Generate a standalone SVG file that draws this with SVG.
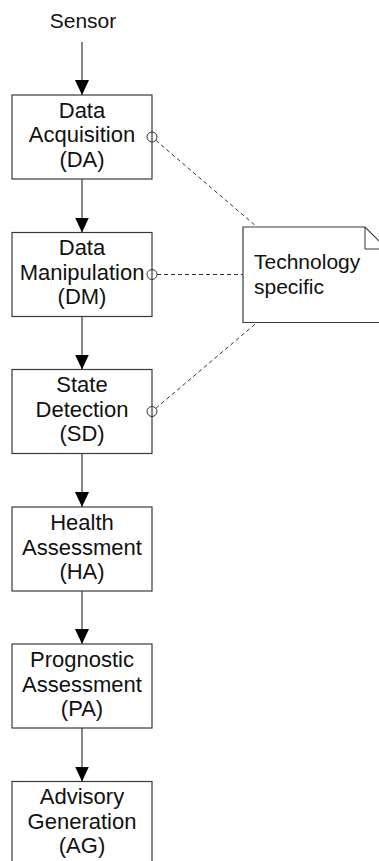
<svg xmlns="http://www.w3.org/2000/svg" width="379" height="861" viewBox="0 0 379 861">
  <style>
    .box { fill: #ffffff; stroke: #3a3a3a; stroke-width: 1.2; }
    .lbl { font-family: "Liberation Sans", Arial, sans-serif; font-size: 22px; fill: #111111; text-anchor: middle; }
    .top-lbl { font-family: "Liberation Sans", Arial, sans-serif; font-size: 21px; fill: #111111; text-anchor: middle; }
    .note-lbl { font-family: "Liberation Sans", Arial, sans-serif; font-size: 21px; fill: #111111; }
    .flow { stroke: #3a3a3a; stroke-width: 1.2; fill: none; }
    .dash { stroke: #333333; stroke-width: 1; fill: none; stroke-dasharray: 4 3; }
    .port { fill: none; stroke: #333333; stroke-width: 1; }
  </style>
  <defs>
    <marker id="arrow" markerUnits="userSpaceOnUse" viewBox="0 0 15 14" markerWidth="15" markerHeight="14" refX="15" refY="7" orient="auto">
      <path d="M0,0 L15,7 L0,14 Z" fill="#000000"/>
    </marker>
  </defs>

  <rect width="379" height="861" fill="#ffffff"/>

  <!-- flow connectors -->
  <g id="connectors">
    <line class="flow" x1="82" y1="42" x2="82" y2="95" marker-end="url(#arrow)"/>
    <line class="flow" x1="82" y1="179" x2="82" y2="232.5" marker-end="url(#arrow)"/>
    <line class="flow" x1="82" y1="316.5" x2="82" y2="369.5" marker-end="url(#arrow)"/>
    <line class="flow" x1="82" y1="453.5" x2="82" y2="507" marker-end="url(#arrow)"/>
    <line class="flow" x1="82" y1="591" x2="82" y2="644" marker-end="url(#arrow)"/>
    <line class="flow" x1="82" y1="728" x2="82" y2="781.5" marker-end="url(#arrow)"/>

    <!-- links to the note -->
    <line class="dash" x1="155.8" y1="140.3" x2="257" y2="227"/>
    <line class="dash" x1="157" y1="274.5" x2="243" y2="274.5"/>
    <line class="dash" x1="155.8" y1="408.3" x2="257" y2="322.5"/>
  </g>

  <g id="sensor">
    <text class="top-lbl" x="83" y="27.5">Sensor</text>
  </g>

  <g id="da">
    <rect class="box" x="12" y="95" width="140" height="84"/>
    <text class="lbl" x="82" y="117.5">Data</text>
    <text class="lbl" x="82" y="142">Acquisition</text>
    <text class="lbl" x="82" y="166.5">(DA)</text>
    <circle class="port" cx="152" cy="137" r="5"/>
  </g>

  <g id="dm">
    <rect class="box" x="12" y="232.5" width="140" height="84"/>
    <text class="lbl" x="82" y="255">Data</text>
    <text class="lbl" x="82" y="279.5">Manipulation</text>
    <text class="lbl" x="82" y="304">(DM)</text>
    <circle class="port" cx="152" cy="274.5" r="5"/>
  </g>

  <g id="sd">
    <rect class="box" x="12" y="369.5" width="140" height="84"/>
    <text class="lbl" x="82" y="392">State</text>
    <text class="lbl" x="82" y="416.5">Detection</text>
    <text class="lbl" x="82" y="441">(SD)</text>
    <circle class="port" cx="152" cy="411.5" r="5"/>
  </g>

  <g id="ha">
    <rect class="box" x="12" y="507" width="140" height="84"/>
    <text class="lbl" x="82" y="530">Health</text>
    <text class="lbl" x="82" y="554.5">Assessment</text>
    <text class="lbl" x="82" y="579">(HA)</text>
  </g>

  <g id="pa">
    <rect class="box" x="12" y="644" width="140" height="84"/>
    <text class="lbl" x="82" y="667">Prognostic</text>
    <text class="lbl" x="82" y="691.5">Assessment</text>
    <text class="lbl" x="82" y="716">(PA)</text>
  </g>

  <g id="ag">
    <rect class="box" x="12" y="781.5" width="140" height="84"/>
    <text class="lbl" x="82" y="804">Advisory</text>
    <text class="lbl" x="82" y="828.5">Generation</text>
    <text class="lbl" x="82" y="853">(AG)</text>
  </g>

  <g id="note">
    <path class="box" d="M243,227 H365 L387,249 V322.5 H243 Z"/>
    <path class="port" d="M365,227 V249 H387"/>
    <text class="note-lbl" x="254" y="268.5">Technology</text>
    <text class="note-lbl" x="254" y="293.5">specific</text>
  </g>
</svg>
